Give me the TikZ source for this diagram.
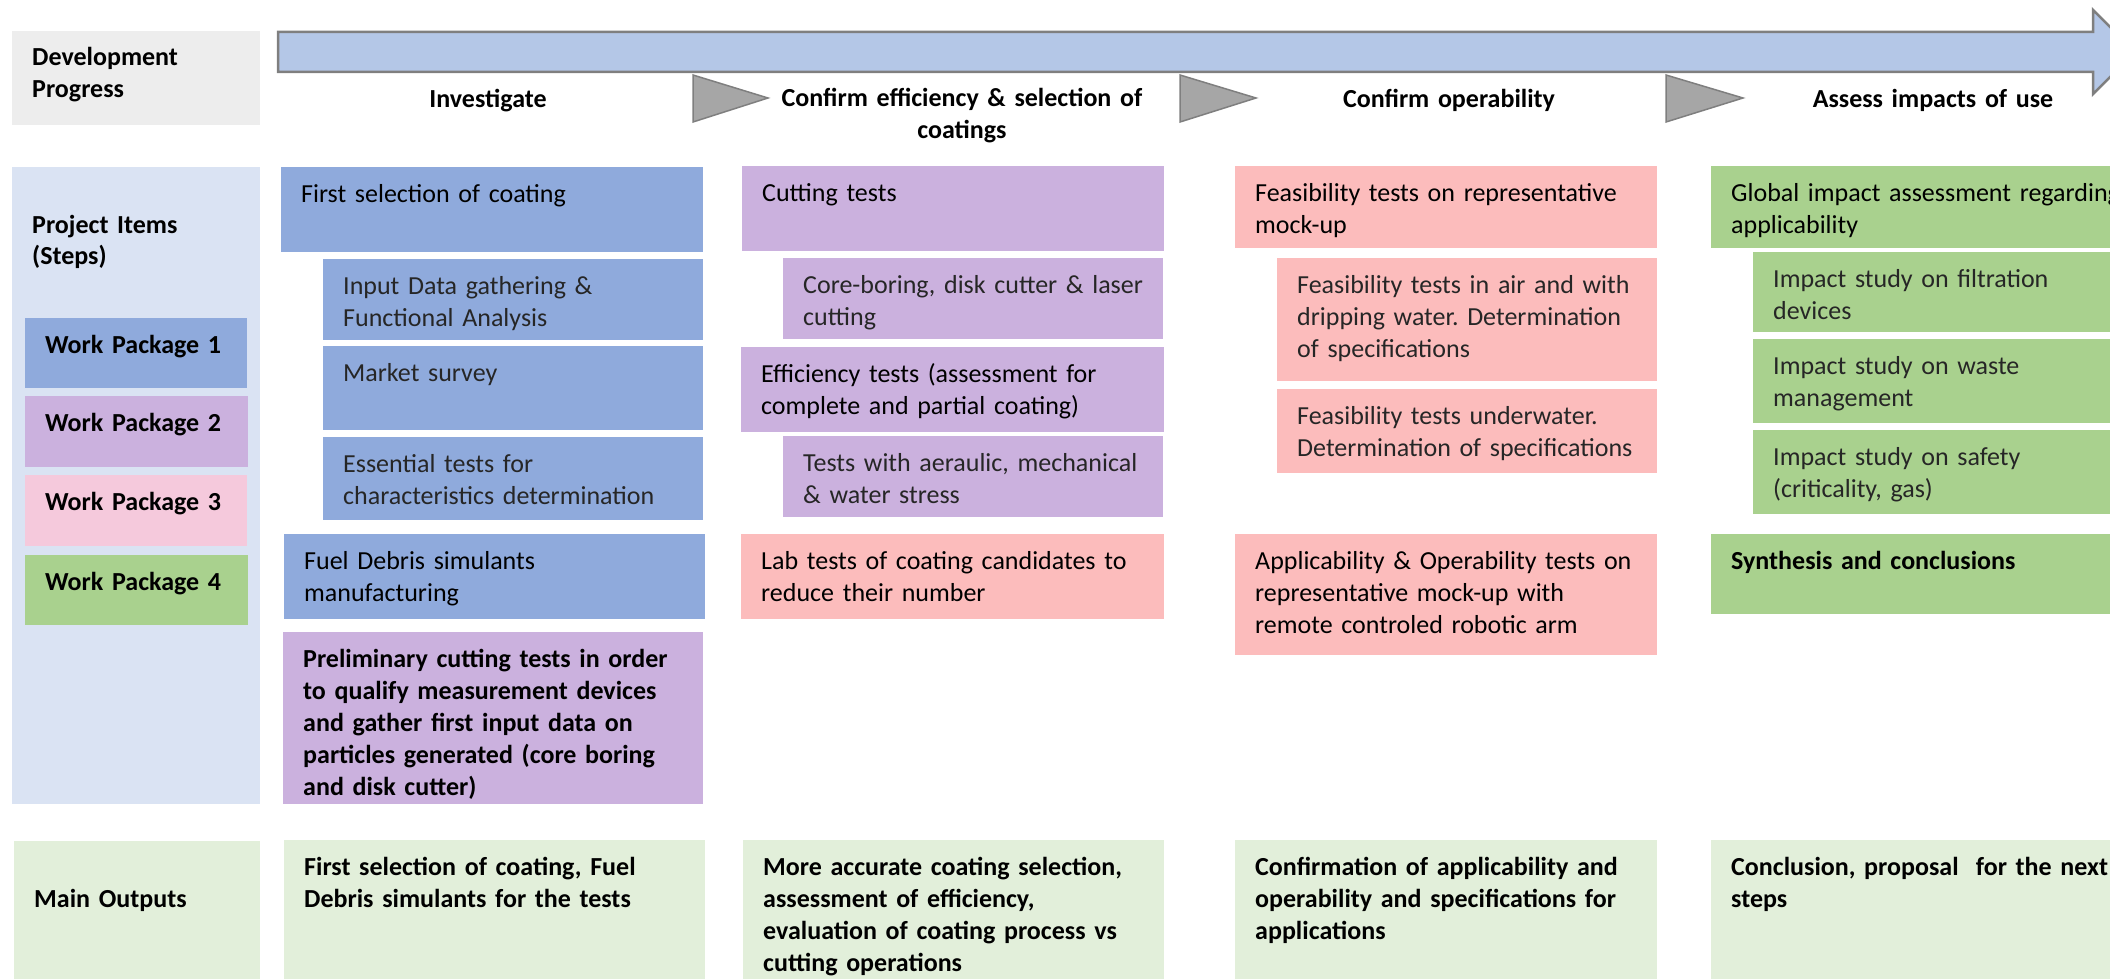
\documentclass[tikz,border=0pt]{standalone}
\usepackage{fontspec}
\setmainfont{Carlito}
\frenchspacing
\newcommand\fs{\fontsize{26}{32}\selectfont}
\definecolor{devgray}{HTML}{EDEDED}
\definecolor{itemsbg}{HTML}{DAE3F3}
\definecolor{wpblue}{HTML}{8FAADC}
\definecolor{wppurple}{HTML}{CBB1DE}
\definecolor{wppink}{HTML}{F5C9DC}
\definecolor{salmon}{HTML}{FCBCBC}
\definecolor{wpgreen}{HTML}{A9D18E}
\definecolor{outgreen}{HTML}{E2EFDA}
\definecolor{arrowblue}{HTML}{B4C7E7}
\definecolor{trifill}{HTML}{A6A6A6}
\definecolor{linegray}{HTML}{7F7F7F}
\definecolor{lighttext}{HTML}{262626}
\tikzset{
  bx/.style={rectangle, inner sep=0pt, outer sep=0pt, anchor=north west},
  tx/.style={anchor=base west, align=left, inner sep=0pt, font=\fs},
  hd/.style={anchor=base, align=center, inner sep=0pt, font=\fs\bfseries, text width=440pt},
  bld/.style={font=\fs\bfseries},
  lgt/.style={text=lighttext},
  rgl/.style={},
  tri/.style={fill=trifill, draw=linegray, line width=1.5pt, line join=miter},
}
\newcommand\pbox[8]{%
  \node[bx, fill=#6, minimum width=#4pt, minimum height=#5pt] (#1) at (#2,#3) {};
  \node[tx, text width={#4pt-24pt}, #7] (#1-t) at ([shift={(20pt,-35pt)}]#1.north west) {#8};
}
\begin{document}
\begin{tikzpicture}[x=1pt, y=-1pt]
\useasboundingbox (0,0) rectangle (2110,979);
\clip (0,0) rectangle (2110,979);

% progress arrow
\draw[fill=arrowblue, draw=linegray, line width=2.5pt, line join=miter]
  (278,32) -- (2093,32) -- (2093,10) -- (2135,52) -- (2093,94) -- (2093,72) -- (278,72) -- cycle;
\draw[tri] (693,75) -- (768,98) -- (693,122) -- cycle;
\draw[tri] (1180,75) -- (1256,98) -- (1180,122) -- cycle;
\draw[tri] (1666,75) -- (1743,98) -- (1666,122) -- cycle;

% headers
\node[hd] (h1) at (488,108) {Investigate};
\node[hd] (h2) at (962,107) {Confirm efficiency \& selection of\\coatings};
\node[hd] (h3) at (1449,108) {Confirm operability};
\node[hd] (h4) at (1933,108) {Assess impacts of use};

% left labels
\node[bx, fill=devgray, minimum width=248pt, minimum height=94pt] (dev) at (12,31) {};
\node[tx, bld, text width=220pt] (dev-t) at (32,66) {Development\\Progress};
\node[bx, fill=itemsbg, minimum width=248pt, minimum height=637pt] (items) at (12,167) {};
\node[tx, bld, text width=220pt] (items-t) at (32,233) {Project Items\\(Steps)};
\pbox{wp1}{25}{318}{222}{70}{wpblue}{bld}{Work Package 1}
\pbox{wp2}{25}{396}{223}{71}{wppurple}{bld}{Work Package 2}
\pbox{wp3}{25}{475}{222}{71}{wppink}{bld}{Work Package 3}
\pbox{wp4}{25}{555}{223}{70}{wpgreen}{bld}{Work Package 4}
\node[bx, fill=outgreen, minimum width=246pt, minimum height=160pt] (mo) at (14,841) {};
\node[tx, bld, text width=220pt] (mo-t) at (34,907) {Main Outputs};

% column 1
\pbox{c1a}{281}{167}{422}{85}{wpblue}{rgl}{First selection of coating}
\pbox{c1b}{323}{259}{380}{81}{wpblue}{lgt}{Input Data gathering \&\\Functional Analysis}
\pbox{c1c}{323}{346}{380}{84}{wpblue}{lgt}{Market survey}
\pbox{c1d}{323}{437}{380}{83}{wpblue}{lgt}{Essential tests for\\characteristics determination}
\pbox{c1e}{284}{534}{421}{85}{wpblue}{rgl}{Fuel Debris simulants\\manufacturing}
\pbox{c1f}{283}{632}{420}{172}{wppurple}{bld}{Preliminary cutting tests in order\\to qualify measurement devices\\and gather first input data on\\particles generated (core boring\\and disk cutter)}
\pbox{o1}{284}{840}{421}{160}{outgreen}{bld}{First selection of coating, Fuel\\Debris simulants for the tests}

% column 2
\pbox{c2a}{742}{166}{422}{85}{wppurple}{rgl}{Cutting tests}
\pbox{c2b}{783}{258}{380}{81}{wppurple}{lgt}{Core-boring, disk cutter \& laser\\cutting}
\pbox{c2c}{741}{347}{423}{85}{wppurple}{rgl}{Efficiency tests (assessment for\\complete and partial coating)}
\pbox{c2d}{783}{436}{380}{81}{wppurple}{lgt}{Tests with aeraulic, mechanical\\\& water stress}
\pbox{c2e}{741}{534}{423}{85}{salmon}{rgl}{Lab tests of coating candidates to\\reduce their number}
\pbox{o2}{743}{840}{421}{160}{outgreen}{bld}{More accurate coating selection,\\assessment of efficiency,\\evaluation of coating process vs\\cutting operations}

% column 3
\pbox{c3a}{1235}{166}{422}{82}{salmon}{rgl}{Feasibility tests on representative\\mock-up}
\pbox{c3b}{1277}{258}{380}{123}{salmon}{lgt}{Feasibility tests in air and with\\dripping water. Determination\\of specifications}
\pbox{c3c}{1277}{389}{380}{84}{salmon}{lgt}{Feasibility tests underwater.\\Determination of specifications}
\pbox{c3d}{1235}{534}{422}{121}{salmon}{rgl}{Applicability \& Operability tests on\\representative mock-up with\\remote controled robotic arm}
\pbox{o3}{1235}{840}{422}{160}{outgreen}{bld}{Confirmation of applicability and\\operability and specifications for\\applications}

% column 4
\pbox{c4a}{1711}{166}{440}{82}{wpgreen}{rgl}{Global impact assessment regarding\\applicability}
\pbox{c4b}{1753}{252}{400}{80}{wpgreen}{lgt}{Impact study on filtration\\devices}
\pbox{c4c}{1753}{339}{400}{84}{wpgreen}{lgt}{Impact study on waste\\management}
\pbox{c4d}{1753}{430}{400}{84}{wpgreen}{lgt}{Impact study on safety\\(criticality, gas)}
\pbox{c4e}{1711}{534}{440}{80}{wpgreen}{bld}{Synthesis and conclusions}
\pbox{o4}{1711}{840}{440}{160}{outgreen}{bld}{Conclusion, proposal~ for the next\\steps}
\end{tikzpicture}
\end{document}
